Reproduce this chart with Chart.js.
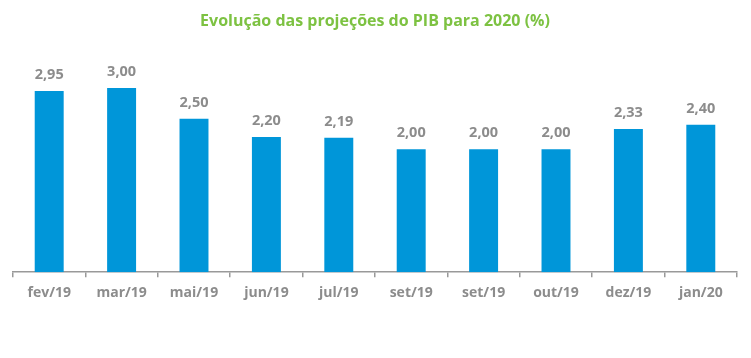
<!DOCTYPE html>
<html>
<head>
<meta charset="utf-8">
<script src="https://cdn.jsdelivr.net/npm/chart.js"></script>
<style>
  body { margin: 0; background: #fff; }
  #wrap { width: 751px; height: 358px; }
</style>
</head>
<body>
<div id="wrap"><canvas id="myChart"></canvas></div>
<script>
const months = ["fev/19", "mar/19", "mai/19", "jun/19", "jul/19", "set/19", "set/19", "out/19", "dez/19", "jan/20"];
const pibValues = [2.95, 3.00, 2.50, 2.20, 2.19, 2.00, 2.00, 2.00, 2.33, 2.40];

// data labels above each bar, with a comma as decimal mark
const barLabels = {
  id: "barLabels",
  afterDatasetsDraw(chart) {
    const ctx = chart.ctx;
    const meta = chart.getDatasetMeta(0);
    ctx.save();
    ctx.font = "bold 14.5px 'Open Sans'";
    ctx.fillStyle = "#8c8c8c";
    ctx.textAlign = "center";
    ctx.textBaseline = "middle";
    meta.data.forEach((bar, i) => {
      ctx.fillText(pibValues[i].toFixed(2).replace(".", ","), bar.x, bar.y - 16);
    });
    ctx.restore();
  }
};

new Chart("myChart", {
  type: "bar",
  data: {
    labels: months,
    datasets: [{
      backgroundColor: "#0096d9",
      data: pibValues,
      categoryPercentage: 1,
      barPercentage: 0.4
    }]
  },
  options: {
    responsive: true,
    maintainAspectRatio: false,
    animation: false,
    layout: { padding: { left: 13, right: 14, bottom: 50 } },
    plugins: {
      legend: { display: false },
      tooltip: { enabled: false },
      title: {
        display: true,
        text: "Evolução das projeções do PIB para 2020 (%)",
        color: "#7dc242",
        font: { family: "'Open Sans'", size: 16, weight: "bold" },
        padding: { top: 12, bottom: 26 }
      }
    },
    scales: {
      y: { display: false, min: 0, max: 3.5 },
      x: {
        border: { color: "#999999", width: 1.5 },
        grid: { drawOnChartArea: false, drawTicks: true, tickLength: 5, color: "#999999", lineWidth: 1.5 },
        ticks: { color: "#8c8c8c", font: { family: "'Open Sans'", size: 14, weight: "bold" }, padding: 7 }
      }
    }
  },
  plugins: [barLabels]
});
</script>
</body>
</html>
